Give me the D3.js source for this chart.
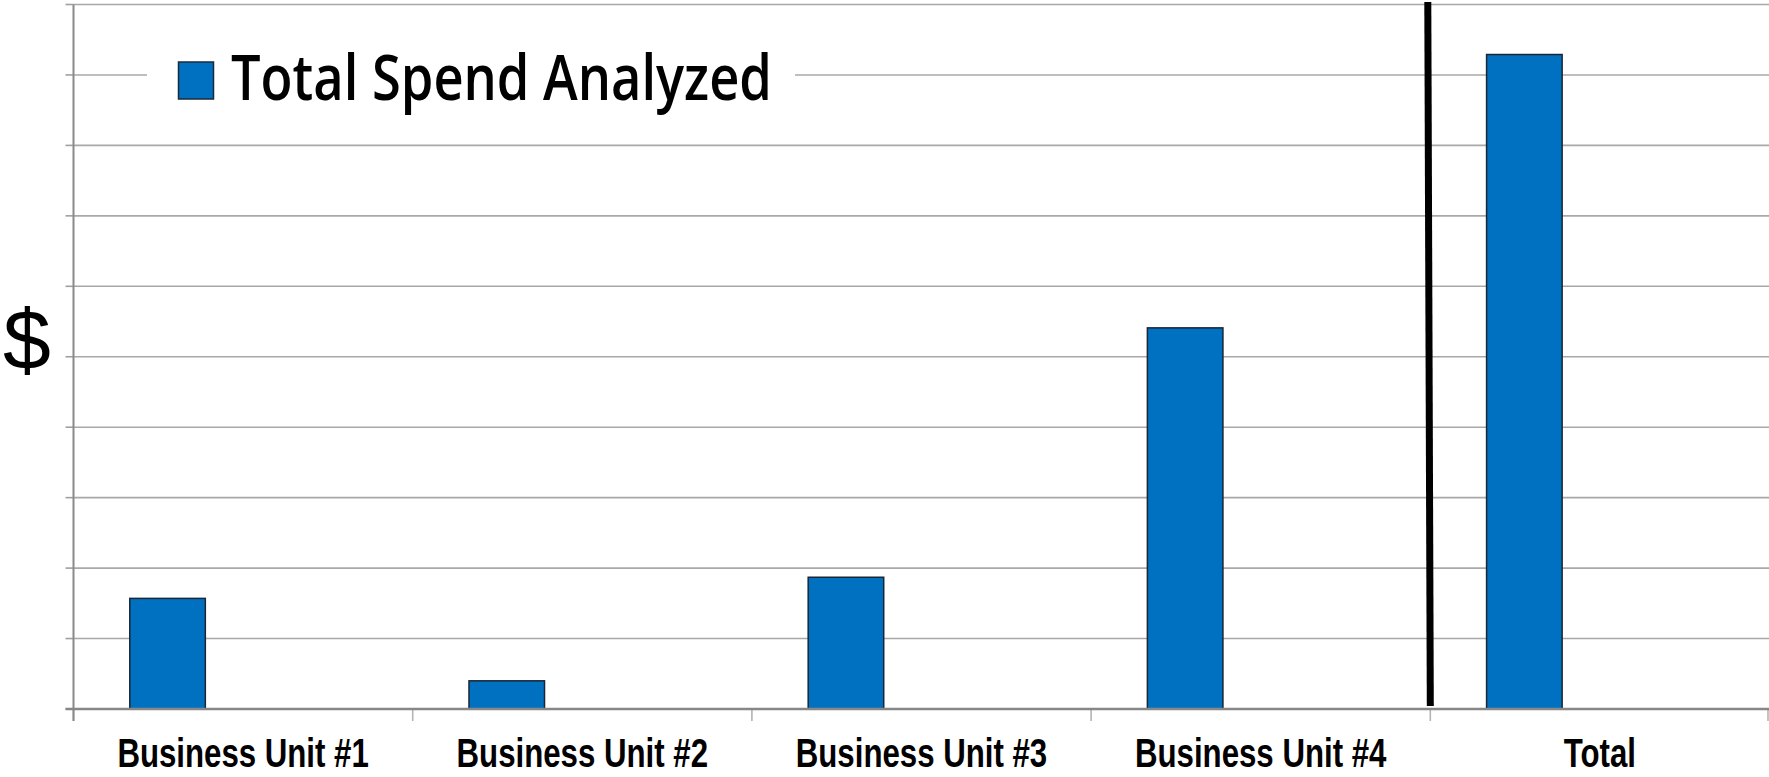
<!DOCTYPE html>
<html>
<head>
<meta charset="utf-8">
<script src="https://cdn.jsdelivr.net/npm/d3@7"></script>
<style>
  html, body { margin: 0; padding: 0; background: #fff; overflow: hidden; }
  svg { display: block; }
</style>
</head>
<body>
<div class="chart"></div>
<script>
// data (values in gridline units, the axis has no numbers)
var categories = ["Business Unit #1", "Business Unit #2", "Business Unit #3", "Business Unit #4", "Total"];
var spend = [1.57, 0.40, 1.87, 5.41, 9.29];
var seriesName = "Total Spend Analyzed";
var yTicks = d3.range(0, 11);

const width = 1769, height = 777;
const margin = {top: 4.5, right: 0, bottom: 68, left: 73.5};

const svg = d3.select(".chart").append("svg")
    .attr("width", width)
    .attr("height", height);

var x = d3.scaleBand().domain(categories)
    .range([margin.left, width + 0.5]).padding(0);
// three slots per category, only the first one is used
var slot = d3.scaleBand().domain([0, 1, 2])
    .range([0, x.bandwidth()]).paddingInner(0).paddingOuter(0.745);
var y = d3.scaleLinear().domain([0, 10]).range([height - margin.bottom, margin.top]);

// gridlines
svg.append("g").selectAll("line")
  .data(yTicks.filter(d => d > 0))
  .join("line")
    .attr("x1", margin.left).attr("x2", width)
    .attr("y1", d => y(d)).attr("y2", d => y(d))
    .attr("stroke", "#a8a8a8")
    .attr("stroke-width", 1.6);

// left ticks
svg.append("g").selectAll("line")
  .data(yTicks)
  .join("line")
    .attr("x1", margin.left - 8).attr("x2", margin.left)
    .attr("y1", d => y(d)).attr("y2", d => y(d))
    .attr("stroke", "#a0a0a0")
    .attr("stroke-width", 1.6);

// bottom boundary ticks
svg.append("g").selectAll("line")
  .data(categories.map(c => x(c)).concat([x.range()[1] - 1.5]))
  .join("line")
    .attr("x1", d => d).attr("x2", d => d)
    .attr("y1", y(0)).attr("y2", y(0) + 12)
    .attr("stroke", "#b4b4b4")
    .attr("stroke-width", 1.6);

// legend (white box breaks the gridline)
const legend = svg.append("g");
legend.append("rect")
    .attr("x", 147).attr("y", 30)
    .attr("width", 648).attr("height", 90)
    .attr("fill", "#fff");
legend.append("rect")
    .attr("x", 178.5).attr("y", 62)
    .attr("width", 35).attr("height", 37)
    .attr("fill", "#0070c0")
    .attr("stroke", "#1b2a38")
    .attr("stroke-width", 1.5);
legend.append("text")
    .attr("x", 231).attr("y", 100)
    .attr("textLength", 541)
    .attr("lengthAdjust", "spacingAndGlyphs")
    .style("font-family", "'Open Sans', Lato, sans-serif")
    .style("font-weight", 600)
    .style("font-size", "63px")
    .attr("fill", "#000")
    .text(seriesName);

// bars
svg.append("g").selectAll("rect")
  .data(categories.map((c, i) => ({cat: c, value: spend[i]})))
  .join("rect")
    .attr("x", d => x(d.cat) + slot(0))
    .attr("y", d => y(d.value))
    .attr("width", slot.bandwidth())
    .attr("height", d => y(0) - y(d.value))
    .attr("fill", "#0070c0")
    .attr("stroke", "#1a2633")
    .attr("stroke-width", 1.5);

// axis lines
svg.append("line")
    .attr("x1", margin.left).attr("x2", margin.left)
    .attr("y1", margin.top).attr("y2", y(0) + 12)
    .attr("stroke", "#8a8a8a").attr("stroke-width", 2);
svg.append("line")
    .attr("x1", margin.left - 8).attr("x2", width)
    .attr("y1", y(0)).attr("y2", y(0))
    .attr("stroke", "#878787").attr("stroke-width", 2.5);

// separator before Total
svg.append("line")
    .attr("x1", x("Total") - 2.5).attr("y1", 2)
    .attr("x2", x("Total")).attr("y2", y(0) - 3)
    .attr("stroke", "#000")
    .attr("stroke-width", 7);

// category labels, squeezed like a narrow bold face
svg.append("g").selectAll("text")
  .data(categories)
  .join("text")
    .attr("x", d => x(d) + x.bandwidth() / 2)
    .attr("y", 767)
    .attr("text-anchor", "middle")
    .style("font-family", "'Liberation Sans', Arial, sans-serif")
    .style("font-weight", "bold")
    .style("font-size", "40px")
    .attr("fill", "#000")
    .text(d => d)
    .each(function() {
      var w = this.getComputedTextLength();
      d3.select(this)
        .attr("textLength", w * 0.78)
        .attr("lengthAdjust", "spacingAndGlyphs");
    });

// y label
svg.append("text")
    .attr("x", 3).attr("y", 369)
    .style("font-family", "'Liberation Sans', Arial, sans-serif")
    .style("font-size", "86px")
    .attr("fill", "#000")
    .text("$");
</script>
</body>
</html>
